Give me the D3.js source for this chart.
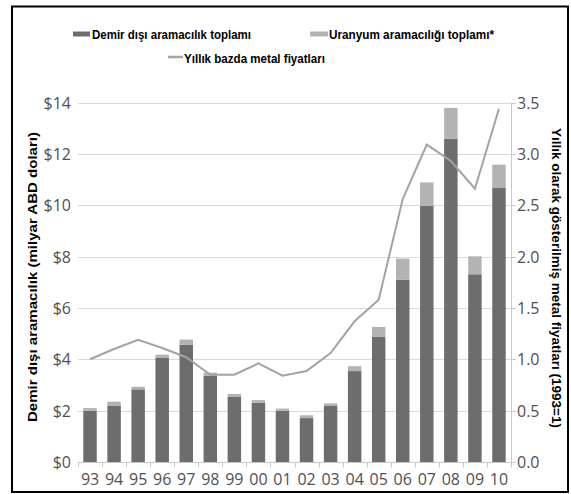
<!DOCTYPE html>
<html lang="tr">
<head>
<meta charset="UTF-8">
<title>Demir dışı aramacılık</title>
<script src="https://d3js.org/d3.v7.min.js"></script>
<style>
    * { margin: 0; padding: 0; box-sizing: border-box; }
    html, body { width: 571px; height: 494px; background: #fff; }
    .tick-label { font-family: "Open Sans", sans-serif; font-size: 16px; fill: #505050; }
    .title { font-family: "Liberation Sans", Arial, sans-serif; font-weight: bold; font-size: 12.6px; fill: #000; }
</style>
</head>
<body>
<svg id="chart" width="571" height="494"></svg>
<script>
    // Data
    const years = ["93","94","95","96","97","98","99","00","01","02","03","04","05","06","07","08","09","10"];
    const nonFerrous = [2.0, 2.2, 2.83, 4.05, 4.56, 3.35, 2.55, 2.31, 1.99, 1.71, 2.18, 3.54, 4.87, 7.1, 9.98, 12.59, 7.31, 10.67];
    const totals = [2.1, 2.35, 2.93, 4.18, 4.77, 3.48, 2.65, 2.41, 2.08, 1.82, 2.28, 3.73, 5.26, 7.92, 10.89, 13.79, 8.01, 11.58];
    const uranium = totals.map((t, i) => +(t - nonFerrous[i]).toFixed(2));
    const metalPrice = [1.0, 1.1, 1.19, 1.11, 1.02, 0.85, 0.85, 0.96, 0.84, 0.885, 1.06, 1.37, 1.58, 2.56, 3.09, 2.93, 2.66, 3.44];
    const leftTicks = [0, 2, 4, 6, 8, 10, 12, 14];
    const rightTicks = [0, 0.5, 1, 1.5, 2, 2.5, 3, 3.5];

    const svg = d3.select("#chart");
    const margin = { left: 78, right: 511, top: 102.5, bottom: 462 };

    // frame
    svg.append("rect")
        .attr("x", 12).attr("y", 6.5).attr("width", 556).attr("height", 485.5)
        .attr("fill", "none").attr("stroke", "#000").attr("stroke-width", 2);

    const x = d3.scaleBand().domain(years).range([margin.left, margin.right]).paddingInner(0.44).paddingOuter(0.22);
    const xb = d3.scaleBand().domain(years).range([margin.left, margin.right]);
    const yL = d3.scaleLinear().domain([0, 14]).range([margin.bottom, margin.top]);
    const yR = d3.scaleLinear().domain([0, 3.5]).range([margin.bottom, margin.top]);

    // gridlines
    svg.append("g").selectAll("line")
        .data(leftTicks.slice(1))
        .join("line")
        .attr("x1", margin.left).attr("x2", margin.right)
        .attr("y1", d => Math.round(yL(d)) + 0.5).attr("y2", d => Math.round(yL(d)) + 0.5)
        .attr("stroke", "#d9d9d9").attr("stroke-width", 1);

    // stacked bars
    svg.append("g").selectAll("rect")
        .data(years)
        .join("rect")
        .attr("x", d => x(d))
        .attr("width", x.bandwidth())
        .attr("y", (d, i) => yL(nonFerrous[i]))
        .attr("height", (d, i) => yL(0) - yL(nonFerrous[i]))
        .attr("fill", "#6d6d6d");

    svg.append("g").selectAll("rect")
        .data(years)
        .join("rect")
        .attr("x", d => x(d))
        .attr("width", x.bandwidth())
        .attr("y", (d, i) => yL(nonFerrous[i] + uranium[i]))
        .attr("height", (d, i) => yL(nonFerrous[i]) - yL(nonFerrous[i] + uranium[i]))
        .attr("fill", "#b3b3b3");

    // metal price line
    const line = d3.line()
        .x((d, i) => xb(years[i]) + xb.bandwidth() / 2)
        .y(d => yR(d));
    svg.append("path")
        .datum(metalPrice)
        .attr("d", line)
        .attr("fill", "none")
        .attr("stroke", "#a3a3a3")
        .attr("stroke-width", 2);

    // x axis
    const xAxis = svg.append("g")
        .attr("transform", `translate(0,${margin.bottom + 0.5})`);
    xAxis.append("line")
        .attr("x1", margin.left).attr("x2", margin.right)
        .attr("stroke", "#c8c8c8");
    xAxis.selectAll("line.tk")
        .data(years.concat(["end"]))
        .join("line").attr("class", "tk")
        .attr("x1", (d, i) => Math.round(margin.left + i * xb.step()) + 0.5)
        .attr("x2", (d, i) => Math.round(margin.left + i * xb.step()) + 0.5)
        .attr("y1", 0).attr("y2", 5)
        .attr("stroke", "#c8c8c8");
    xAxis.selectAll("text")
        .data(years)
        .join("text")
        .attr("class", "tick-label")
        .attr("x", d => xb(d) + xb.bandwidth() / 2)
        .attr("y", 22)
        .attr("text-anchor", "middle")
        .text(d => d);

    // left axis labels
    svg.append("g").selectAll("text")
        .data(leftTicks)
        .join("text")
        .attr("class", "tick-label")
        .attr("x", 71)
        .attr("y", d => yL(d) + 6)
        .attr("text-anchor", "end")
        .text(d => "$" + d);

    // right axis
    const rAxis = svg.append("g");
    rAxis.append("line")
        .attr("x1", margin.right + 0.5).attr("x2", margin.right + 0.5)
        .attr("y1", margin.top).attr("y2", margin.bottom)
        .attr("stroke", "#c8c8c8");
    rAxis.selectAll("line.tk")
        .data(rightTicks)
        .join("line").attr("class", "tk")
        .attr("x1", margin.right).attr("x2", margin.right + 5)
        .attr("y1", d => Math.round(yR(d)) + 0.5).attr("y2", d => Math.round(yR(d)) + 0.5)
        .attr("stroke", "#c8c8c8");
    rAxis.selectAll("text")
        .data(rightTicks)
        .join("text")
        .attr("class", "tick-label")
        .attr("x", 517)
        .attr("y", d => yR(d) + 6)
        .text(d => d.toFixed(1));

    // axis titles
    svg.append("text")
        .attr("class", "title")
        .attr("transform", "translate(37,277) rotate(-90)")
        .attr("text-anchor", "middle")
        .attr("textLength", 290).attr("lengthAdjust", "spacingAndGlyphs")
        .text("Demir dışı aramacılık (milyar ABD doları)");
    svg.append("text")
        .attr("class", "title")
        .attr("transform", "translate(552,278) rotate(90)")
        .attr("text-anchor", "middle")
        .attr("textLength", 300).attr("lengthAdjust", "spacingAndGlyphs")
        .text("Yıllık olarak gösterilmiş metal fiyatları (1993=1)");

    // legend
    const lg = svg.append("g").attr("class", "title");
    lg.append("rect").attr("x", 73).attr("y", 31.5).attr("width", 17).attr("height", 5).attr("fill", "#6d6d6d");
    lg.append("text").attr("x", 92).attr("y", 39)
        .attr("textLength", 159).attr("lengthAdjust", "spacingAndGlyphs")
        .text("Demir dışı aramacılık toplamı");
    lg.append("rect").attr("x", 310).attr("y", 31.5).attr("width", 18).attr("height", 5).attr("fill", "#b3b3b3");
    lg.append("text").attr("x", 329).attr("y", 39)
        .attr("textLength", 165).attr("lengthAdjust", "spacingAndGlyphs")
        .text("Uranyum aramacılığı toplamı*");
    lg.append("line").attr("x1", 168).attr("x2", 183).attr("y1", 57).attr("y2", 57).attr("stroke", "#a3a3a3").attr("stroke-width", 2.5);
    lg.append("text").attr("x", 184).attr("y", 63)
        .attr("textLength", 141).attr("lengthAdjust", "spacingAndGlyphs")
        .text("Yıllık bazda metal fiyatları");
</script>
</body>
</html>
